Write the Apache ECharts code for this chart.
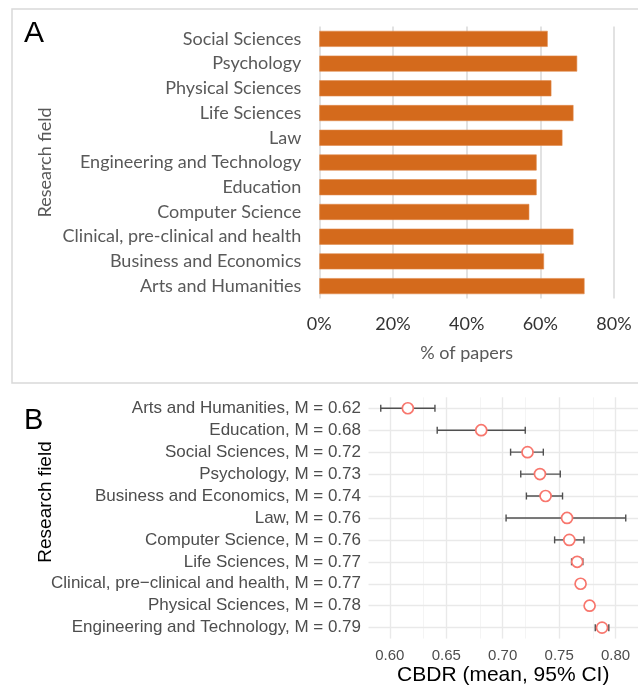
<!DOCTYPE html>
<html>
<head>
<meta charset="utf-8">
<script src="https://cdn.jsdelivr.net/npm/echarts@6/dist/echarts.min.js"></script>
<style>
  html, body { margin: 0; padding: 0; background: #fff; }
  #chart { width: 638px; height: 689px; }
</style>
</head>
<body>
<div id="chart"></div>
<script>
// Panel A: share of papers per research field (listed bottom to top)
const fieldsA = [
  'Arts and Humanities',
  'Business and Economics',
  'Clinical, pre-clinical and health',
  'Computer Science',
  'Education',
  'Engineering and Technology',
  'Law',
  'Life Sciences',
  'Physical Sciences',
  'Psychology',
  'Social Sciences'
];
const shareA = [0.72, 0.61, 0.69, 0.57, 0.59, 0.59, 0.66, 0.69, 0.63, 0.70, 0.62];

// Panel B: CBDR mean with 95% CI per research field (listed top to bottom)
const fieldsB = [
  'Arts and Humanities',
  'Education',
  'Social Sciences',
  'Psychology',
  'Business and Economics',
  'Law',
  'Computer Science',
  'Life Sciences',
  'Clinical, pre\u2212clinical and health',
  'Physical Sciences',
  'Engineering and Technology'
];
const meanB = [0.616, 0.681, 0.722, 0.733, 0.738, 0.757, 0.759, 0.766, 0.769, 0.777, 0.788];
const lowB  = [0.592, 0.642, 0.707, 0.716, 0.721, 0.703, 0.746, 0.761, 0.766, 0.774, 0.782];
const highB = [0.640, 0.720, 0.736, 0.751, 0.753, 0.809, 0.772, 0.771, 0.773, 0.780, 0.794];
const cbdrMajorTicks = [0.60, 0.65, 0.70, 0.75, 0.80];
const cbdrMinorTicks = [0.625, 0.675, 0.725, 0.775];

const labelsB = fieldsB.map((f, i) => f + ', M = ' + meanB[i].toFixed(2));

// x range of panel B padded by 5% of the CI span on both sides
const lo = Math.min(...lowB), hi = Math.max(...highB);
const pad = 0.05 * (hi - lo);

const sansA = 'Lato, "Open Sans", sans-serif';
const sansB = '"Liberation Sans", Arial, sans-serif';
const gridColor = '#e9e9e9';

const chart = echarts.init(document.getElementById('chart'), null, { renderer: 'canvas' });

// background grid of panel B: major/minor verticals and one line per field
const gridLines = [
  ...cbdrMinorTicks.map(v => ({ xAxis: v, lineStyle: { color: '#f1f1f1', width: 0.8, type: 'solid' } })),
  ...cbdrMajorTicks.map(v => ({ xAxis: v, lineStyle: { color: gridColor, width: 1.4, type: 'solid' } })),
  ...labelsB.map((c, i) => ({ yAxis: i, lineStyle: { color: gridColor, width: 1.4, type: 'solid' } }))
];

chart.setOption({
  animation: false,
  backgroundColor: '#fff',
  graphic: [
    { type: 'rect', silent: true, z: -1,
      shape: { x: 12, y: 9, width: 640, height: 374 },
      style: { fill: 'none', stroke: '#d9d9d9', lineWidth: 1.5 } },
    { type: 'text', left: 24, top: 19,
      style: { text: 'A', font: '30px Arial, sans-serif', fill: '#000' } },
    { type: 'text', left: 24, top: 406,
      style: { text: 'B', font: '29px "Liberation Sans", Arial, sans-serif', fill: '#000' } },
    { type: 'text', x: 46, y: 502, rotation: Math.PI / 2,
      style: { text: 'Research field', font: '19px "Liberation Sans", Arial, sans-serif',
        fill: '#000', align: 'center', verticalAlign: 'middle' } }
  ],
  grid: [
    { left: 319.3, top: 26.5, width: 294.7, height: 272, containLabel: false },
    { left: 368.5, top: 397.3, right: 0, height: 241.3, containLabel: false }
  ],
  xAxis: [
    {
      gridIndex: 0, type: 'value', min: 0, max: 0.8, interval: 0.2,
      axisLine: { show: false }, axisTick: { show: false },
      splitLine: { show: true, lineStyle: { color: '#d9d9d9', width: 1.5 } },
      axisLabel: { formatter: v => Math.round(v * 100) + '%', margin: 17,
        fontFamily: sansA, fontSize: 18, color: '#333333' },
      name: '% of papers', nameLocation: 'middle', nameGap: 46,
      nameTextStyle: { fontFamily: sansA, fontSize: 18, color: '#595959' }
    },
    {
      gridIndex: 1, type: 'value', min: lo - pad, max: hi + pad,
      axisLine: { show: false }, axisTick: { show: false },
      splitLine: { show: false },
      axisLabel: {
        showMinLabel: false, showMaxLabel: false, margin: 10,
        formatter: v => v.toFixed(2),
        fontFamily: sansB, fontSize: 15, color: '#4d4d4d'
      },
      name: 'CBDR (mean, 95% CI)', nameLocation: 'middle', nameGap: 24,
      nameTextStyle: { fontFamily: sansB, fontSize: 21, color: '#000' }
    }
  ],
  yAxis: [
    {
      gridIndex: 0, type: 'category', data: fieldsA,
      axisLine: { show: false }, axisTick: { show: false },
      axisLabel: { interval: 0, margin: 18, fontFamily: sansA, fontSize: 18, color: '#595959' },
      name: 'Research field', nameLocation: 'middle', nameRotate: 90, nameGap: 265,
      nameTextStyle: { fontFamily: sansA, fontSize: 18, color: '#595959' }
    },
    {
      gridIndex: 1, type: 'category', data: labelsB, inverse: true,
      axisLine: { show: false }, axisTick: { show: false },
      splitLine: { show: false },
      axisLabel: { interval: 0, margin: 7.5, fontFamily: sansB, fontSize: 17, color: '#4d4d4d' }
    }
  ],
  series: [
    {
      type: 'bar', xAxisIndex: 0, yAxisIndex: 0,
      data: shareA, barWidth: 16,
      itemStyle: { color: '#d46a1c', borderColor: '#e08a4c', borderWidth: 0.6 }
    },
    {
      // 95% confidence intervals as horizontal error bars with end caps
      type: 'custom', xAxisIndex: 1, yAxisIndex: 1, z: 10,
      data: labelsB.map((c, i) => [lowB[i], highB[i], i]),
      encode: { x: [0, 1], y: 2 },
      renderItem: (params, api) => {
        const a = api.coord([api.value(0), api.value(2)]);
        const b = api.coord([api.value(1), api.value(2)]);
        const cap = 3.5;
        const st = { stroke: '#505050', lineWidth: 1.4, fill: null };
        return {
          type: 'group',
          children: [
            { type: 'line', shape: { x1: a[0], y1: a[1], x2: b[0], y2: b[1] }, style: st },
            { type: 'line', shape: { x1: a[0], y1: a[1] - cap, x2: a[0], y2: a[1] + cap }, style: st },
            { type: 'line', shape: { x1: b[0], y1: b[1] - cap, x2: b[0], y2: b[1] + cap }, style: st }
          ]
        };
      }
    },
    {
      type: 'scatter', xAxisIndex: 1, yAxisIndex: 1, z: 11,
      data: labelsB.map((c, i) => [meanB[i], i]),
      symbol: 'circle', symbolSize: 11,
      itemStyle: { color: '#ffffff', borderColor: '#f8766d', borderWidth: 1.7, opacity: 1 },
      markLine: {
        silent: true, symbol: ['none', 'none'], label: { show: false },
        data: gridLines
      }
    }
  ]
});
</script>
</body>
</html>
